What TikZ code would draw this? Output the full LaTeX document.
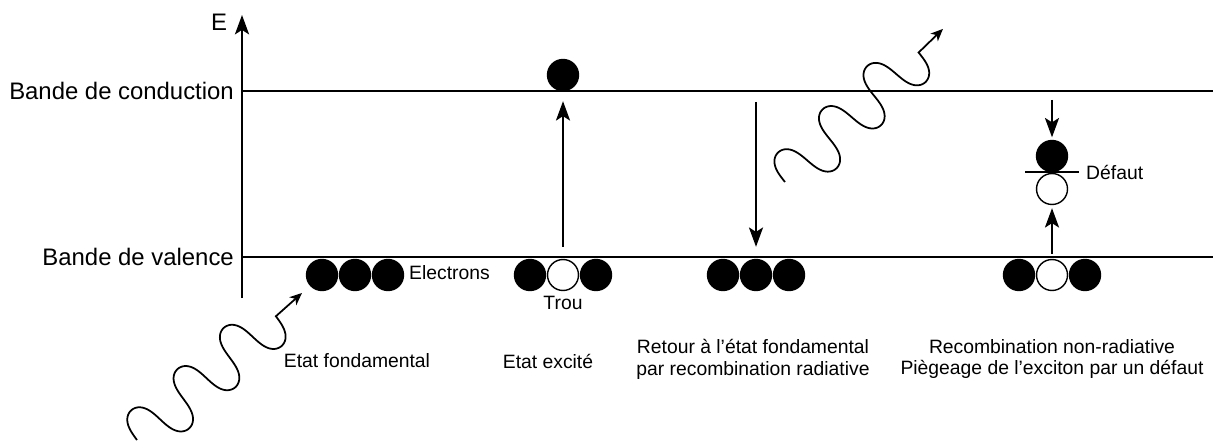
\documentclass[tikz,border=0pt]{standalone}
\usepackage{fontspec}
\setmainfont{Liberation Sans}
\usetikzlibrary{arrows.meta}

\begin{document}
\begin{tikzpicture}[
    x=0.02cm, y=-0.02cm,
    band/.style={line width=1.4pt},
    electron/.style={circle, draw, fill=black, line width=0.8pt, minimum size=0.62cm, inner sep=0pt},
    hole/.style={circle, draw, fill=white, line width=0.8pt, minimum size=0.62cm, inner sep=0pt},
    bandlabel/.style={font=\fontsize{13.6}{16}\selectfont, anchor=east},
    caption/.style={font=\fontsize{11}{12.5}\selectfont, align=center},
    arrow/.style={-{Stealth[length=11pt, width=8pt, inset=2.5pt]}, line width=1.3pt},
    photon/.style={line width=1pt, -{Stealth[length=7pt, width=6pt, inset=2pt]}}
]
    \useasboundingbox (0,0) rectangle (1213,442);

    % Axis and bands
    \coordinate (axb) at (242,298);
    \coordinate (axt) at (242,15);
    \coordinate (cbl) at (242,91);
    \coordinate (cbr) at (1213,91);
    \coordinate (vbl) at (242,257);
    \coordinate (vbr) at (1213,257);
    \draw[arrow] (axb) -- (axt);
    \draw[band] (cbl) -- (cbr);
    \draw[band] (vbl) -- (vbr);
    \node[font=\fontsize{13.6}{16}\selectfont] (elabel) at (219,22) {E};
    \node[bandlabel] (cblabel) at (240,91) {Bande de conduction};
    \node[bandlabel] (vblabel) at (240,257) {Bande de valence};

    % Etat fondamental
    \node[electron] (e1) at (322,275) {};
    \node[electron] (e2) at (355,275) {};
    \node[electron] (e3) at (388,275) {};
    \node[caption, anchor=west] (elec) at (403,273) {Electrons};
    \node[caption] (c1) at (357,361) {Etat fondamental};

    % Etat excite
    \node[electron] (f1) at (530,275) {};
    \node[hole] (f2) at (563,275) {};
    \node[electron] (f3) at (596,275) {};
    \node[electron] (fx) at (563,75) {};
    \draw[arrow] ([yshift=0.24cm]f2.north) -- ([yshift=-0.2cm]fx.south);
    \node[caption] (trou) at (563,303) {Trou};
    \node[caption] (c2) at (548,361) {Etat excité};

    % Recombinaison radiative
    \node[electron] (g1) at (723,275) {};
    \node[electron] (g2) at (756,275) {};
    \node[electron] (g3) at (789,275) {};
    \coordinate (gtop) at (756,102);
    \draw[arrow] (gtop) -- ([yshift=0.24cm]g2.north);
    \node[caption] (c3) at (753,359) {Retour à l’état fondamental\\par recombination radiative};

    % Recombinaison non radiative
    \node[electron] (d1) at (1019,275) {};
    \node[hole] (d2) at (1052,275) {};
    \node[electron] (d3) at (1085,275) {};
    \node[electron] (dt) at (1052,156) {};
    \node[hole] (dh) at (1052,189) {};
    \coordinate (dl) at (1025,172);
    \coordinate (dr) at (1079,172);
    \draw[line width=0.7pt] (dl) -- (dr);
    \node[caption, anchor=west] (defaut) at (1080,172) {Défaut};
    \coordinate (dtop) at (1052,100);
    \draw[arrow] (dtop) -- ([yshift=0.05cm]dt.north);
    \draw[arrow] ([yshift=0.1cm]d2.north) -- ([yshift=-0.06cm]dh.south);
    \node[caption] (c4) at (1052,359) {Recombination non-radiative\\Piègeage de l’exciton par un défaut};

    % Photons
    \begin{scope}[shift={(137,440)}, rotate=41.7]
        \coordinate (w1e) at (221,0);
        \draw[photon] plot[domain=0:1080, samples=200, smooth, variable=\t]
            ({0.17226*\t - 3.75*sin(2*\t)}, {-26*sin(\t)}) -- (w1e);
    \end{scope}
    \begin{scope}[shift={(785,182)}, rotate=44.1]
        \coordinate (w2e) at (220,0);
        \draw[photon] plot[domain=0:1080, samples=200, smooth, variable=\t]
            ({0.17226*\t - 3.75*sin(2*\t)}, {-26*sin(\t)}) -- (w2e);
    \end{scope}
\end{tikzpicture}
\end{document}
